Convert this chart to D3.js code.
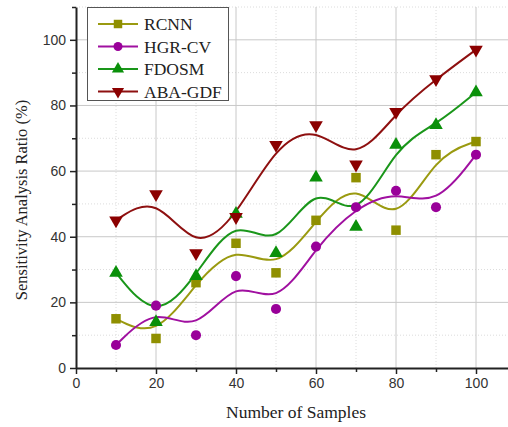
<!DOCTYPE html>
<html>
<head>
<meta charset="utf-8">
<script src="https://cdn.jsdelivr.net/npm/d3@7"></script>
<style>
  body { margin: 0; background: #fff; }
  svg { display: block; }
</style>
</head>
<body>
<div id="chart"></div>
<script>
// data
const samples = [10, 20, 30, 40, 50, 60, 70, 80, 90, 100];
const rcnn   = [15, 9, 26, 38, 29, 45, 58, 42, 65, 69];
const hgrcv  = [7, 19, 10, 28, 18, 37, 49, 54, 49, 65];
const fdosm  = [29, 14, 28, 47, 35, 58, 43, 68, 74, 84];
const abagdf = [45, 53, 35, 46, 68, 74, 62, 78, 88, 97];
const seriesNames = ["RCNN", "HGR-CV", "FDOSM", "ABA-GDF"];
const xTicks = [0, 20, 40, 60, 80, 100];
const yTicks = [0, 20, 40, 60, 80, 100];

const width = 508, height = 427;
const margin = { top: 7, right: 0, bottom: 59, left: 76 };

const series = [
    { name: seriesNames[0], values: rcnn,   color: "#8f8f00", line: "#9a9a10", symbol: d3.symbolSquare,   size: 90 },
    { name: seriesNames[1], values: hgrcv,  color: "#990099", line: "#a010a0", symbol: d3.symbolCircle,   size: 80 },
    { name: seriesNames[2], values: fdosm,  color: "#0a900a", line: "#1a961a", symbol: d3.symbolTriangle, size: 80 },
    { name: seriesNames[3], values: abagdf, color: "#8b0000", line: "#8e1010", symbol: d3.symbolTriangle, size: 80, flip: true }
];

const svg = d3.select("#chart").append("svg")
    .attr("width", width)
    .attr("height", height);

const x = d3.scaleLinear().domain([0, 108]).range([margin.left, width - margin.right]);
const y = d3.scaleLinear().domain([0, 110]).range([height - margin.bottom, margin.top]);

//grid: minor dotted, major solid
const grid = svg.append("g");
d3.range(10, 108, 20).forEach(v => {
    grid.append("line").attr("x1", x(v)).attr("x2", x(v))
        .attr("y1", y(0)).attr("y2", y(110))
        .attr("stroke", "#dcdcdc").attr("stroke-dasharray", "1,2");
});
d3.range(10, 111, 20).forEach(v => {
    grid.append("line").attr("y1", y(v)).attr("y2", y(v))
        .attr("x1", x(0)).attr("x2", x(108))
        .attr("stroke", "#dcdcdc").attr("stroke-dasharray", "1,2");
});
xTicks.slice(1).forEach(v => {
    grid.append("line").attr("x1", x(v)).attr("x2", x(v))
        .attr("y1", y(0)).attr("y2", y(110))
        .attr("stroke", "#c8c8c8");
});
yTicks.slice(1).forEach(v => {
    grid.append("line").attr("y1", y(v)).attr("y2", y(v))
        .attr("x1", x(0)).attr("x2", x(108))
        .attr("stroke", "#c8c8c8");
});

//axes
svg.append("g")
    .attr("transform", `translate(0,${y(0)})`)
    .call(d3.axisBottom(x).tickValues(xTicks).tickSize(6).tickSizeOuter(0).tickPadding(4));
svg.append("g")
    .attr("transform", `translate(0,${y(0)})`)
    .call(d3.axisBottom(x).tickValues(d3.range(10, 108, 20)).tickSize(4).tickSizeOuter(0).tickFormat(""))
    .select(".domain").remove();

svg.append("g")
    .attr("transform", `translate(${x(0)},0)`)
    .call(d3.axisLeft(y).tickValues(yTicks).tickSize(6).tickSizeOuter(0).tickPadding(4));
svg.append("g")
    .attr("transform", `translate(${x(0)},0)`)
    .call(d3.axisLeft(y).tickValues(d3.range(10, 111, 20)).tickSize(4).tickSizeOuter(0).tickFormat(""))
    .select(".domain").remove();

svg.selectAll(".domain").attr("stroke", "#222").attr("stroke-width", 2);
svg.selectAll(".tick line").attr("stroke", "#222").attr("stroke-width", 1.5);
svg.selectAll(".tick text")
    .attr("font-family", "Liberation Sans, Arial, sans-serif")
    .attr("font-size", 14)
    .attr("fill", "#333");

//lines
const line = d3.line()
    .x((d, i) => x(samples[i]))
    .y(d => y(d))
    .curve(d3.curveBasis);

series.forEach(s => {
    svg.append("path")
        .datum(s.values)
        .attr("d", line)
        .attr("fill", "none")
        .attr("stroke", s.line)
        .attr("stroke-width", 2);
});

//markers
series.forEach(s => {
    const sym = d3.symbol().type(s.symbol).size(s.size);
    svg.append("g").selectAll("path")
        .data(s.values)
        .enter().append("path")
        .attr("d", sym)
        .attr("transform", (d, i) => `translate(${x(samples[i])},${y(d)})` + (s.flip ? " rotate(180)" : ""))
        .attr("fill", s.color);
});

//legend
const legend = svg.append("g");
legend.append("rect")
    .attr("x", 87.5).attr("y", 7.5)
    .attr("width", 141).attr("height", 93)
    .attr("fill", "#fff").attr("stroke", "#555").attr("stroke-width", 1);

series.forEach((s, i) => {
    const ly = 24 + i * 22.5;
    legend.append("line")
        .attr("x1", 98).attr("x2", 138)
        .attr("y1", ly).attr("y2", ly)
        .attr("stroke", s.line).attr("stroke-width", 2);
    legend.append("path")
        .attr("d", d3.symbol().type(s.symbol).size(s.size * 0.8))
        .attr("transform", `translate(118,${ly})` + (s.flip ? " rotate(180)" : ""))
        .attr("fill", s.color);
    legend.append("text")
        .attr("x", 144).attr("y", ly + 6)
        .attr("font-family", "Liberation Serif, Times New Roman, serif")
        .attr("font-size", 17.5)
        .attr("fill", "#222")
        .text(s.name);
});

//axis titles
svg.append("text")
    .attr("x", 296).attr("y", 418)
    .attr("text-anchor", "middle")
    .attr("font-family", "Liberation Serif, Times New Roman, serif")
    .attr("font-size", 17.5)
    .attr("fill", "#222")
    .text("Number of Samples");

svg.append("text")
    .attr("transform", `translate(27,200) rotate(-90)`)
    .attr("text-anchor", "middle")
    .attr("font-family", "Liberation Serif, Times New Roman, serif")
    .attr("font-size", 16.5)
    .attr("fill", "#222")
    .text("Sensitivity Analysis Ratio (%)");
</script>
</body>
</html>
